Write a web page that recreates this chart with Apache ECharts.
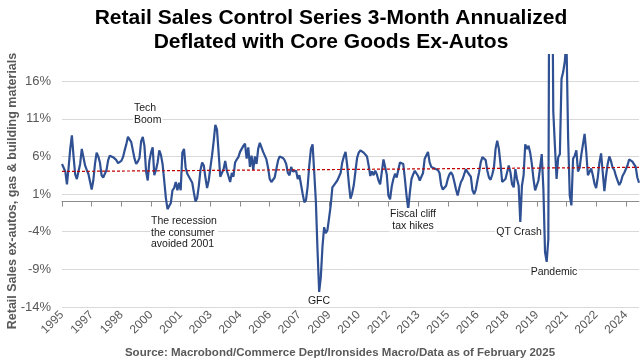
<!DOCTYPE html>
<html><head><meta charset="utf-8">
<script src="https://cdn.jsdelivr.net/npm/echarts@6/dist/echarts.min.js"></script>
<style>html,body{margin:0;padding:0;background:#fff}#c{width:641px;height:361px}</style>
</head><body><div id="c"></div>
<script>
// First observation: Nov 1995, monthly, last: Jan 2025
const startYear = 1995, startMonth = 11;
const retailSales3mAnn = [
 5.0, 5.1, 4.0, 2.3, 4.5, 7.0, 8.8, 6.0, 3.6, 3.0, 2.8, 5.0, 7.0, 6.8, 4.8, 4.2, 3.7, 3.9, 1.6, 2.8,
 5.0, 6.5, 6.0, 5.2, 3.5, 3.2, 3.1, 4.2, 5.5, 6.1, 6.0, 5.9, 5.7, 5.5, 5.1, 5.0, 5.4, 5.9, 6.8, 7.6,
 8.6, 8.5, 7.9, 6.8, 5.7, 5.0, 5.3, 5.8, 8.0, 8.6, 7.4, 4.0, 2.8, 5.4, 6.5, 7.2, 3.5, 4.2, 5.2, 6.8,
 6.2, 5.0, 2.8, 0.5, -1.0, -1.2, -0.2, 1.5, 1.8, 2.6, 1.5, 2.5, 1.5, 6.5, 7.0, 4.5, 3.7, 3.3, 3.2, 2.5,
 1.2, 0.0, 0.5, 2.1, 4.2, 5.2, 4.8, 3.2, 1.8, 2.8, 4.5, 6.1, 8.0, 10.2, 9.6, 6.5, 3.3, 3.8, 4.3, 5.4,
 4.1, 4.3, 2.6, 3.8, 3.3, 5.2, 5.6, 5.9, 6.6, 7.0, 7.4, 7.7, 5.7, 7.2, 4.6, 6.1, 4.2, 6.0, 5.0, 7.0,
 7.8, 7.2, 6.6, 6.6, 5.6, 4.5, 3.0, 2.6, 2.8, 3.2, 4.3, 5.4, 6.0, 5.9, 5.8, 5.5, 5.0, 3.8, 3.5, 4.6,
 4.0, 3.8, 4.1, 3.0, 3.5, 3.3, 1.0, -0.1, 0.2, 2.0, 4.8, 7.0, 7.6, 3.9, 0.0, -6.5, -12.0, -10.0, -6.0, -3.4,
 -4.2, -3.8, -2.2, -0.5, 1.9, 2.2, 2.4, 2.8, 3.0, 3.8, 5.2, 6.0, 6.6, 4.8, 2.4, 0.4, 1.1, 2.2, 4.0, 5.8,
 6.5, 6.8, 6.6, 6.5, 6.4, 6.0, 4.8, 3.4, 4.0, 3.5, 4.1, 3.6, 2.8, 2.3, 2.2, 5.6, 5.6, 3.6, 0.8, 0.3,
 2.0, 3.0, 3.7, 3.2, 3.4, 5.2, 5.3, 5.0, 3.0, 0.8, -1.0, 1.2, 3.0, 3.6, 4.1, 4.0, 3.4, 2.8, 2.7, 3.8,
 5.7, 5.9, 6.6, 5.2, 4.6, 4.5, 4.4, 4.3, 4.2, 3.8, 2.2, 1.6, 1.6, 2.1, 3.0, 3.6, 3.9, 3.5, 2.6, 1.6,
 0.8, 1.8, 2.6, 3.0, 2.8, 4.3, 3.9, 4.1, 3.3, 1.5, 1.0, 1.6, 2.8, 3.9, 5.2, 5.9, 6.1, 5.5, 4.1, 3.2,
 2.9, 3.6, 4.5, 7.0, 8.1, 7.0, 5.0, 2.6, 2.7, 3.0, 2.8, 4.8, 3.9, 2.3, 1.9, 4.3, 3.0, 2.1, -2.7, 2.1,
 3.5, 7.6, 7.0, 7.4, 6.5, 5.0, 3.0, 1.5, 1.6, 2.8, 4.5, 6.3, 1.7, -6.7, -8.0, -5.0, 60.0, 45.0, 12.0, 7.4,
 3.0, 5.9, 6.3, 16.3, 17.2, 18.6, 21.5, 8.5, 0.8, -0.5, 5.7, 6.1, 6.8, 4.0, 4.5, 6.2, 7.6, 9.0, 6.6, 3.5,
 3.4, 4.4, 3.5, 2.4, 1.8, 3.2, 5.2, 6.4, 3.9, 1.4, 3.4, 5.0, 6.0, 5.4, 4.5, 4.2, 3.4, 2.8, 2.2, 2.6,
 3.4, 3.8, 3.9, 4.8, 5.6, 5.8, 5.3, 5.2, 4.6, 3.2, 2.5
];
// linear trend line endpoints (%)
const trendStart = 4.0, trendEnd = 4.55;
const yMin = -14, yMax = 20, yStep = 5;
const labelEvery = 18; // months between axis labels

const categories = [];
for (let k = 0; k < retailSales3mAnn.length; k++) {
  const m = startMonth - 1 + k;
  const y = startYear + Math.floor(m / 12);
  const mm = (m % 12) + 1;
  categories.push(y + '-' + (mm < 10 ? '0' + mm : mm));
}
const last = categories.length - 1;

const FONT = "'Liberation Sans', Arial, sans-serif";
const chart = echarts.init(document.getElementById('c'), null, {renderer: 'canvas'});
const txt = (x, y, text, o) => ({
  type: 'text', x: x, y: y, silent: true, z: 100,
  style: Object.assign({text: text, fill: '#1a1a1a', fontFamily: FONT, fontSize: 10.5,
    lineHeight: 11.8, align: 'left', verticalAlign: 'top',
    backgroundColor: '#ffffff', padding: [0, 1]}, o || {})
});
chart.setOption({
  animation: false,
  backgroundColor: '#ffffff',
  grid: {left: 62, right: 2, top: 51, bottom: 54},
  xAxis: [
    {type: 'category', data: categories, boundaryGap: false, position: 'bottom',
     axisLine: {show: false, onZero: false}, axisTick: {show: false}, splitLine: {show: false},
     axisLabel: {interval: labelEvery - 1, rotate: 45, fontSize: 12, color: '#595959',
       fontFamily: FONT, margin: 6, formatter: v => v.slice(0, 4)}},
    {type: 'category', data: categories, boundaryGap: false, position: 'bottom',
     axisLine: {show: true, onZero: true, lineStyle: {color: '#8c8c8c', width: 1}},
     axisTick: {show: true, interval: labelEvery - 1, length: 5, lineStyle: {color: '#8c8c8c'}},
     axisLabel: {show: false}, splitLine: {show: false}}
  ],
  yAxis: {type: 'value', min: yMin, max: yMax, interval: yStep,
    axisLine: {show: false}, axisTick: {show: false},
    axisLabel: {formatter: v => v + '%', showMaxLabel: false, fontSize: 13, color: '#595959',
      fontFamily: FONT, margin: 11},
    splitLine: {show: true, showMaxLine: false, lineStyle: {color: '#d9d9d9', width: 1}}},
  series: [{
    type: 'line', data: retailSales3mAnn, xAxisIndex: 0, symbol: 'none', showSymbol: false,
    clip: true, lineStyle: {color: '#2F5093', width: 2.2}, z: 2,
    markLine: {silent: true, symbol: ['none', 'none'], label: {show: false}, z: 3,
      lineStyle: {color: '#C00000', type: [3, 2], width: 1.2},
      emphasis: {disabled: true},
      data: [[{coord: [0, trendStart]}, {coord: [last, trendEnd]}]]}
  }],
  graphic: [
    txt(331, 6, 'Retail Sales Control Series 3-Month Annualized\nDeflated with Core Goods Ex-Autos',
      {fontSize: 21, fontWeight: 'bold', fill: '#000000', align: 'center', lineHeight: 24}),
    txt(340, 346, 'Source: Macrobond/Commerce Dept/Ironsides Macro/Data as of February 2025',
      {fontSize: 11.5, fontWeight: 'bold', fill: '#595959', align: 'center', lineHeight: 14}),
    Object.assign(txt(13, 191, 'Retail Sales ex-autos, gas & building materials',
      {fontSize: 12.5, fontWeight: 'bold', fill: '#595959', align: 'center', verticalAlign: 'middle'}),
      {rotation: Math.PI / 2}),
    txt(133, 102, 'Tech\nBoom'),
    txt(150, 215, 'The recession\nthe consumer\navoided 2001'),
    txt(319, 301, 'GFC', {align: 'center', verticalAlign: 'middle'}),
    txt(413, 208, 'Fiscal cliff\ntax hikes', {align: 'center'}),
    txt(519, 232, 'QT Crash', {align: 'center', verticalAlign: 'middle'}),
    txt(554, 272, 'Pandemic', {align: 'center', verticalAlign: 'middle'})
  ]
});
</script></body></html>
